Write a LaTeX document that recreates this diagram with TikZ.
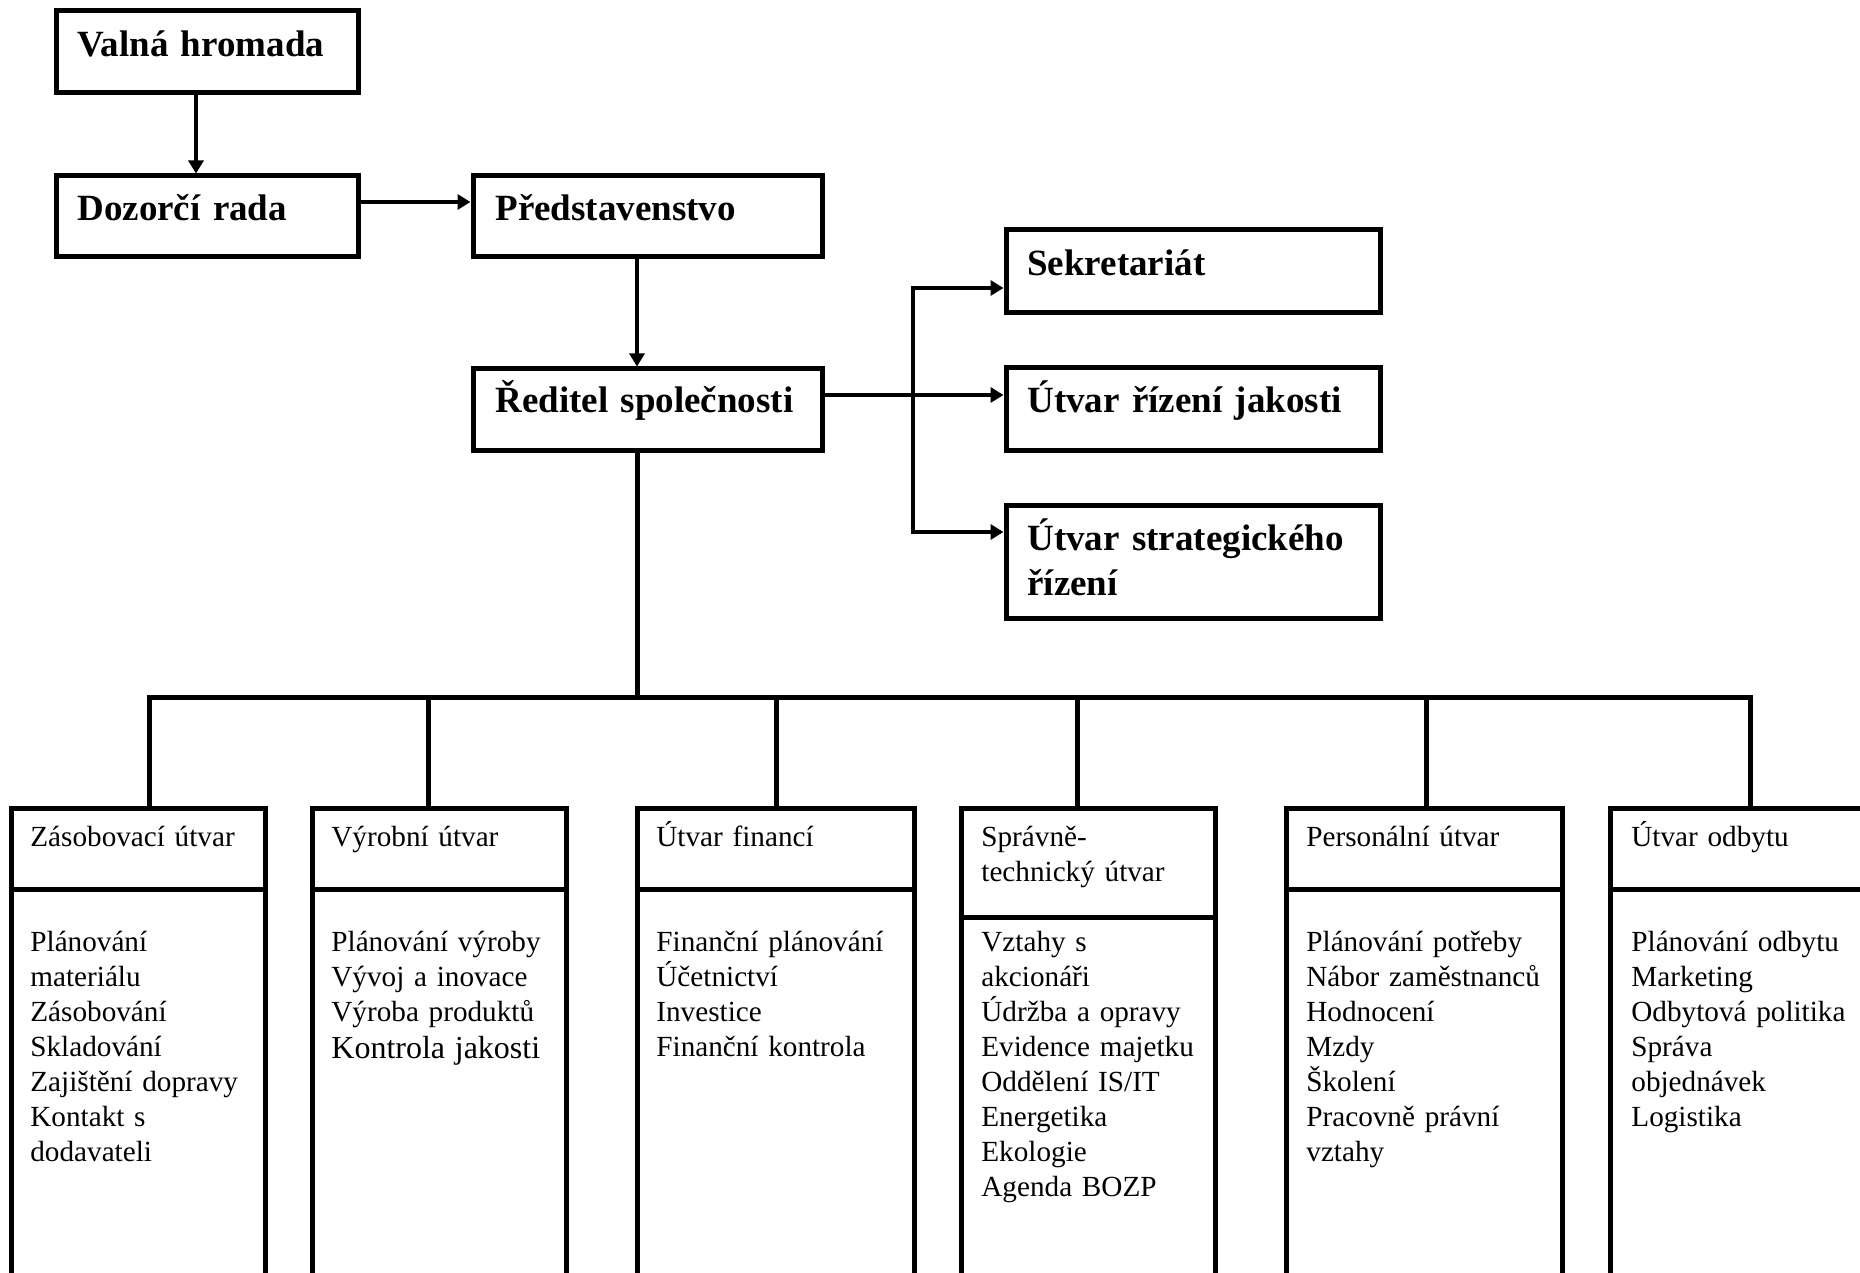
\documentclass[tikz,border=0pt]{standalone}
\usepackage{fontspec}
\setmainfont{Liberation Serif}
\usetikzlibrary{arrows.meta,fit}
\begin{document}
\begin{tikzpicture}[x=0.5pt,y=-0.5pt,
  box/.style={draw, line width=2.5pt, rectangle, inner sep=0pt},
  bus/.style={line width=2.5pt},
  arr/.style={line width=2.3pt, -{Triangle[length=6.5pt,width=7.5pt]}},
  bt/.style={anchor=base west, inner sep=0pt, font=\bfseries\fontsize{18.5}{22.5}\selectfont, align=left, text width=170pt},
  rt/.style={anchor=base west, inner sep=0pt, font=\fontsize{14.6}{17.5}\selectfont, align=left, text width=140pt}]
\useasboundingbox (0,0) rectangle (1860,1273);
\clip (0,0) rectangle (1860,1273);
\fill[white] (0,0) rectangle (1860,1273);

% top boxes
\node[box, fit={(56,11) (358,93)}] (valna) {};
\node[box, fit={(56,176) (358,257)}] (dozor) {};
\node[box, fit={(473,176) (822,257)}] (pred) {};
\node[box, fit={(473,369) (822,451)}] (red) {};
\node[box, fit={(1006,230) (1380,313)}] (sekr) {};
\node[box, fit={(1006,368) (1380,451)}] (jak) {};
\node[box, fit={(1006,505) (1380,618)}] (strat) {};

\node[bt] (tvalna) at (77,57) {Valná hromada};
\node[bt] (tdozor) at (77,221) {Dozorčí rada};
\node[bt] (tpred) at (495,221) {Představenstvo};
\node[bt] (tred) at (495,413) {Ředitel společnosti};
\node[bt] (tsekr) at (1027,276) {Sekretariát};
\node[bt] (tjak) at (1027,413) {Útvar řízení jakosti};
\node[bt] (tstrat) at (1027,550) {Útvar strategického\\řízení};

% top connectors
\draw[arr] (valna.south -| 196,0) -- (dozor.north -| 196,0);
\draw[arr] (dozor.east |- 0,202) -- (pred.west |- 0,202);
\draw[arr] (pred.south -| 637,0) -- (red.north -| 637,0);
\draw[arr] (red.east |- 0,395) -- (jak.west |- 0,395);
\coordinate (br) at (913,395);
\draw[arr] (br) |- (sekr.west |- 0,288);
\draw[arr] (br) |- (strat.west |- 0,532);

% bottom boxes
\node[box, fit={(11,808) (265,1275)}] (b1) {};
\node[box, fit={(312,808) (566,1275)}] (b2) {};
\node[box, fit={(637,808) (914,1275)}] (b3) {};
\node[box, fit={(961,808) (1215,1275)}] (b4) {};
\node[box, fit={(1286,808) (1562,1275)}] (b5) {};
\node[box, fit={(1610.5,808) (1920,1275)}] (b6) {};

\draw[bus] (b1.west |- 0,889) -- (b1.east |- 0,889);
\draw[bus] (b2.west |- 0,889) -- (b2.east |- 0,889);
\draw[bus] (b3.west |- 0,889) -- (b3.east |- 0,889);
\draw[bus] (b4.west |- 0,917) -- (b4.east |- 0,917);
\draw[bus] (b5.west |- 0,889) -- (b5.east |- 0,889);
\draw[bus] (b6.west |- 0,889) -- (b6.east |- 0,889);

% bus
\draw[bus] (red.south -| 637,0) -- (637,697);
\draw[bus] (b1.north -| 149.5,0) -- (149.5,697) -- (1750,697) -- (b6.north -| 1750,0);
\draw[bus] (428,697) -- (b2.north -| 428,0);
\draw[bus] (776,697) -- (b3.north -| 776,0);
\draw[bus] (1077,697) -- (b4.north -| 1077,0);
\draw[bus] (1426,697) -- (b5.north -| 1426,0);

% bottom texts
\node[rt] (h1) at (30,846) {Zásobovací útvar};
\node[rt] (h2) at (331,846) {Výrobní útvar};
\node[rt] (h3) at (656,846) {Útvar financí};
\node[rt] (h4) at (981,846) {Správně-\\technický útvar};
\node[rt] (h5) at (1306,846) {Personální útvar};
\node[rt] (h6) at (1631,846) {Útvar odbytu};

\node[rt] (l1) at (30,951) {Plánování\\materiálu\\Zásobování\\Skladování\\Zajištění dopravy\\Kontakt s\\dodavateli};
\node[rt] (l2) at (331,951) {Plánování výroby\\Vývoj a inovace\\Výroba produktů\\[1pt]{\fontsize{16}{17.5}\selectfont Kontrola jakosti}};
\node[rt] (l3) at (656,951) {Finanční plánování\\Účetnictví\\Investice\\Finanční kontrola};
\node[rt] (l4) at (981,951) {Vztahy s\\akcionáři\\Údržba a opravy\\Evidence majetku\\Oddělení IS/IT\\Energetika\\Ekologie\\Agenda BOZP};
\node[rt] (l5) at (1306,951) {Plánování potřeby\\Nábor zaměstnanců\\Hodnocení\\Mzdy\\Školení\\Pracovně právní\\vztahy};
\node[rt] (l6) at (1631,951) {Plánování odbytu\\Marketing\\Odbytová politika\\Správa\\objednávek\\Logistika};
\end{tikzpicture}
\end{document}
